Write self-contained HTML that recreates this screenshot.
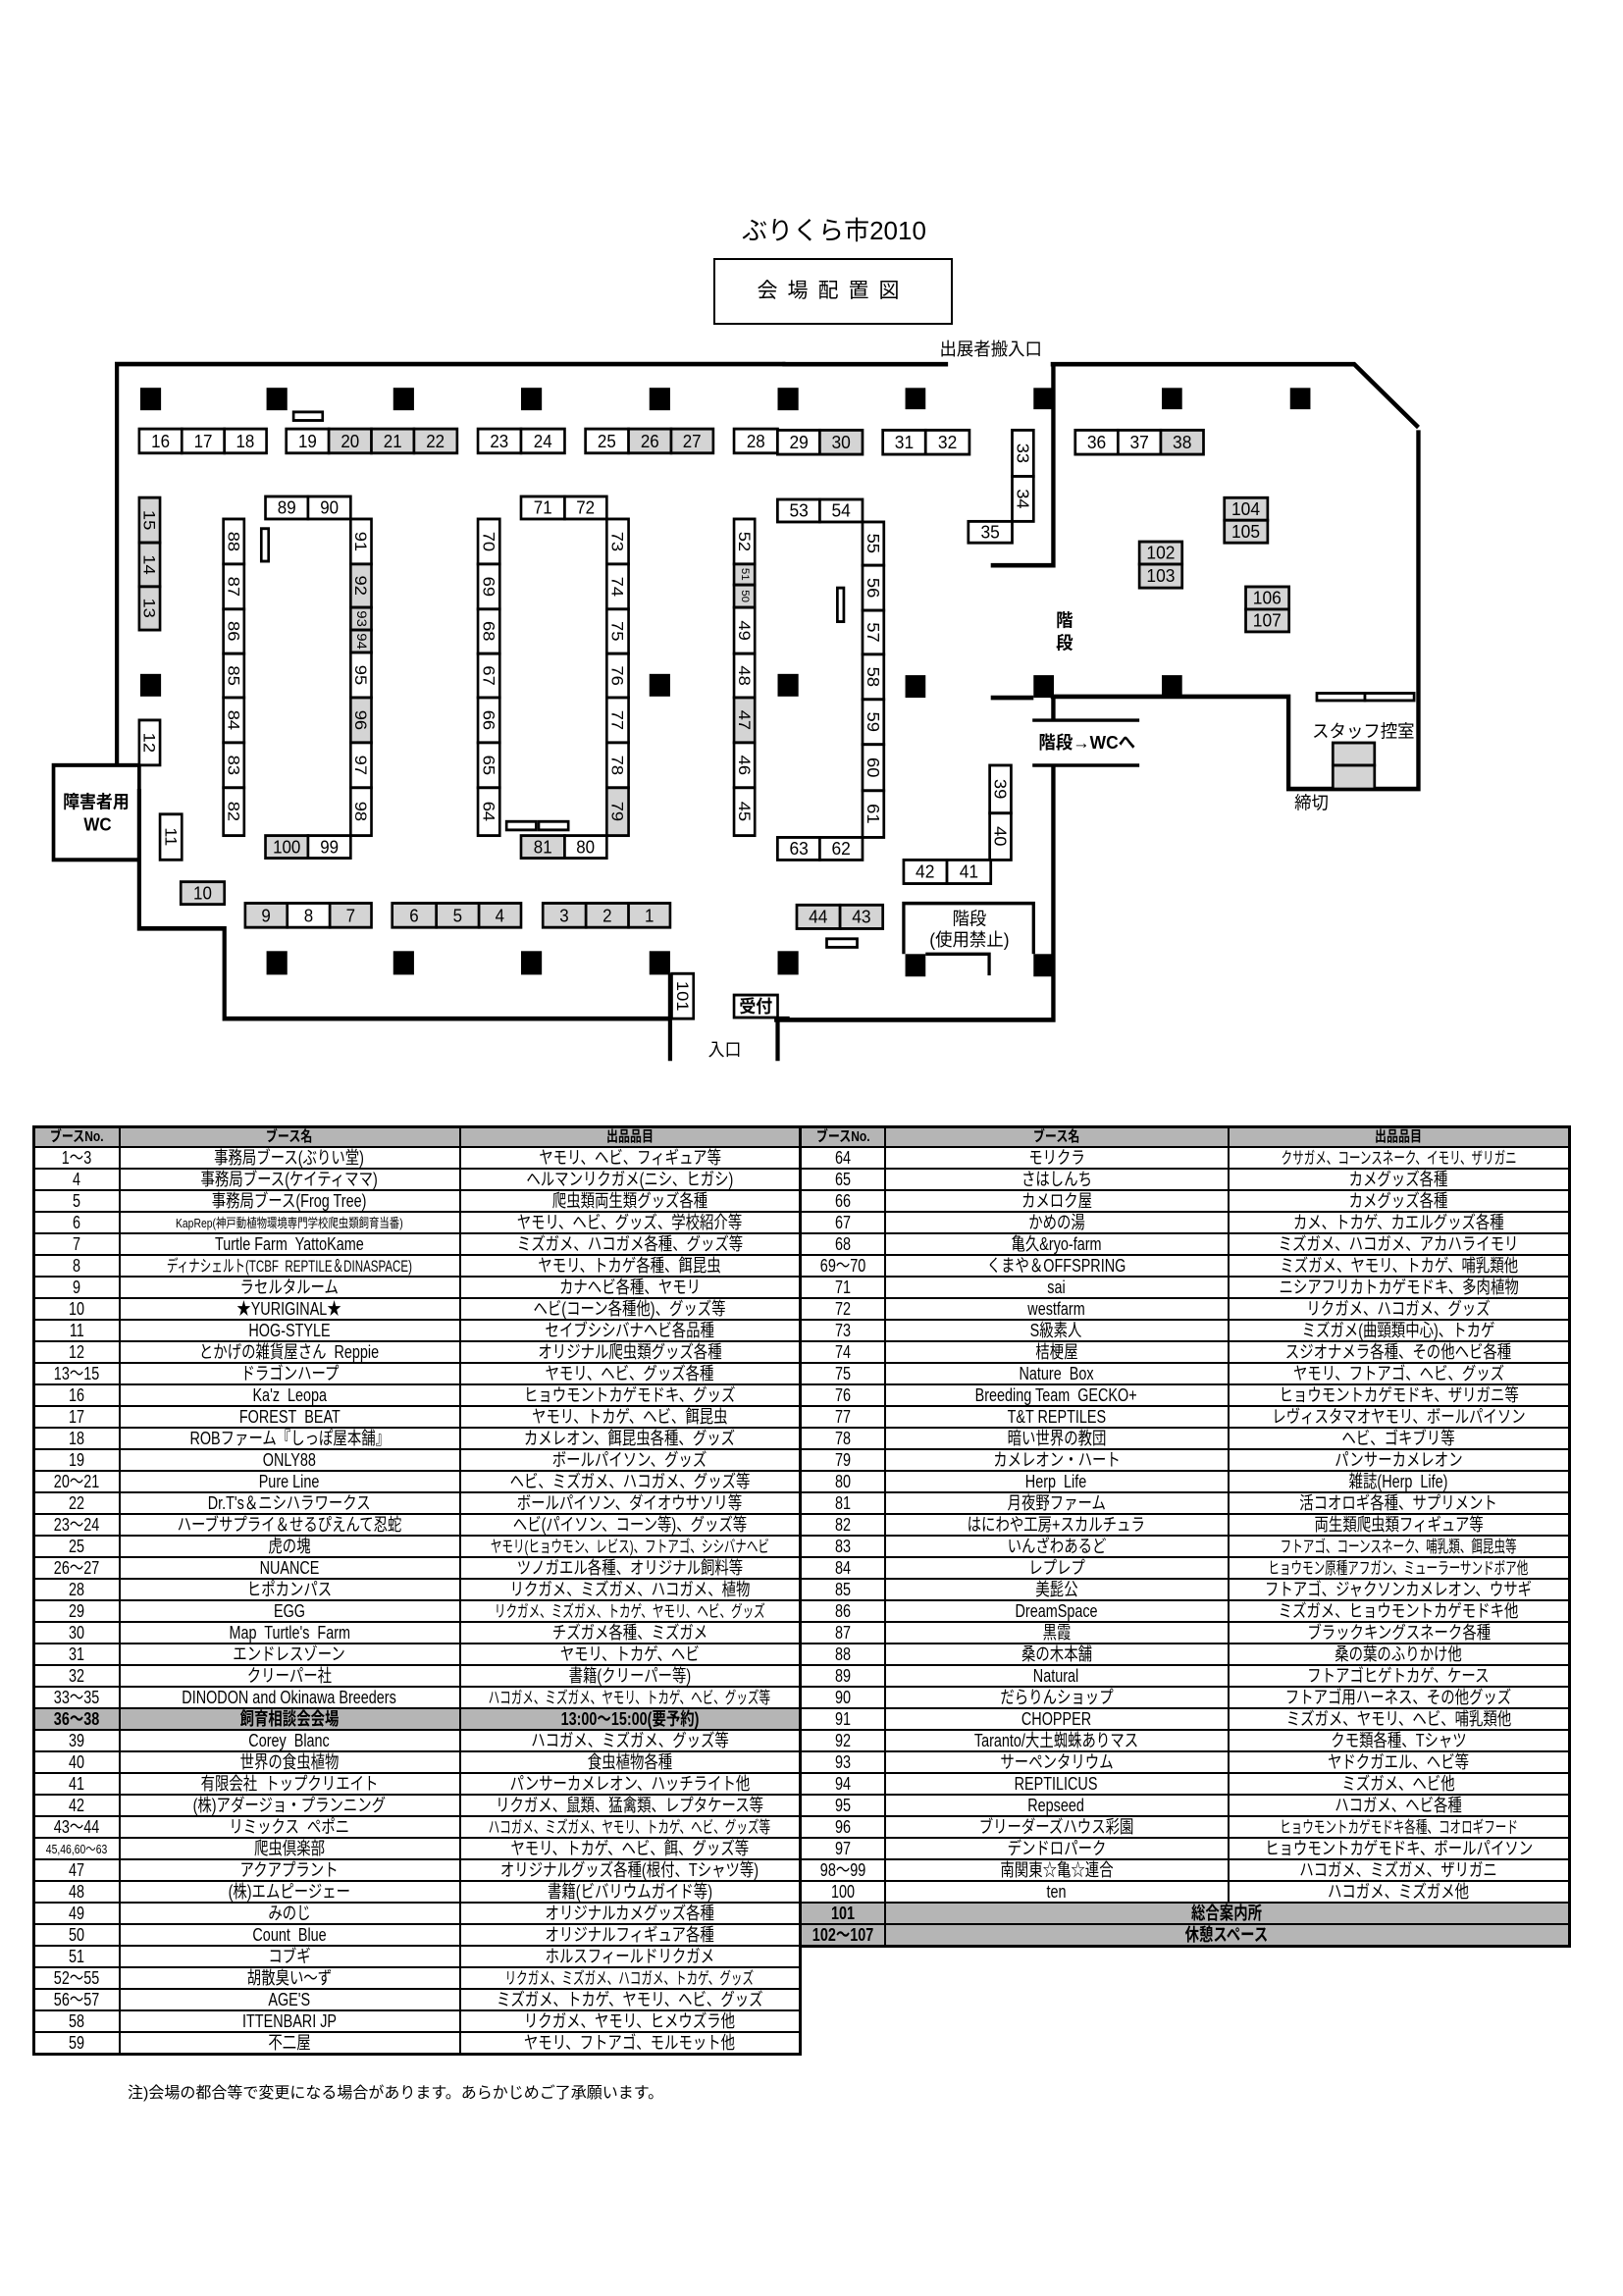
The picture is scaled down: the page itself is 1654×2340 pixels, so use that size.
<!DOCTYPE html>
<html><head><meta charset="utf-8">
<style>
html,body{margin:0;padding:0;background:#fff}
body{width:1654px;height:2340px;position:relative;overflow:hidden;font-family:"Liberation Sans","Noto Sans CJK JP",sans-serif}
svg{position:absolute;left:0;top:0}
.b{fill:#fff;stroke:#000;stroke-width:5}
.s{fill:#d4d4d4;stroke:#000;stroke-width:5}
.w{fill:none;stroke:#000;stroke-width:8}
.w6{fill:none;stroke:#000;stroke-width:6}
.c{fill:#000}
.t{font-family:"Liberation Sans","Noto Sans CJK JP",sans-serif;font-size:32px;text-anchor:middle;dominant-baseline:central}
.l{font-family:"Liberation Sans","Noto Sans CJK JP",sans-serif;font-size:32px;text-anchor:middle;dominant-baseline:central;font-weight:bold}
table{position:absolute;border-collapse:collapse;table-layout:fixed;border:3px solid #000}
td{border:2px solid #000;padding:0;text-align:center;white-space:nowrap;overflow:visible;font-size:18px;line-height:18px;height:20px}
td span{display:inline-block;transform:scaleX(.8);transform-origin:center;margin:0 -150px}
td.n span{font-size:17px;transform:scaleX(.68)}
td.x span{font-size:13px;transform:scaleX(.8)}
tr.h td{height:16px;background:#b5b5b5;font-weight:bold;font-size:15px}
tr.g td{background:#b5b5b5;font-weight:bold}
</style></head><body>

<div style="position:absolute;left:740px;top:220px;width:220px;text-align:center;font-size:26px;line-height:30px">ぶりくら市2010</div>
<div style="position:absolute;left:727px;top:263px;width:240px;height:64px;border:2px solid #000;text-align:center;font-size:21px;line-height:64px;letter-spacing:10px">会場配置図</div>

<svg width="1654" height="2340" viewBox="0 0 1654 2340">
<g transform="translate(0,200) scale(0.5294,0.5741)">
<path class="w" d="M225,1014 V298 H1512"/>
<rect x="103" y="1010" width="165" height="168" fill="#fff" stroke="#000" stroke-width="7"/>
<path class="w" d="M268,1052 V1300 H432 V1460 H1290 M1290,1380 V1535 M1497,1535 V1460 H1520"/>
<text class="l" x="185" y="1075">障害者用</text><text class="l" x="188" y="1115">WC</text>
<text class="t" x="1395" y="1515">入口</text>
<rect class="c" x="270" y="340" width="40" height="40"/><rect class="c" x="513" y="340" width="40" height="40"/><rect class="c" x="757" y="340" width="40" height="40"/><rect class="c" x="1003" y="340" width="40" height="40"/><rect class="c" x="1250" y="340" width="40" height="40"/><rect class="c" x="1497" y="340" width="40" height="40"/>
<rect class="c" x="270" y="848" width="40" height="40"/><rect class="c" x="1250" y="848" width="40" height="40"/><rect class="c" x="1497" y="848" width="40" height="40"/>
<rect class="c" x="513" y="1340" width="40" height="42"/><rect class="c" x="757" y="1340" width="40" height="42"/><rect class="c" x="1003" y="1340" width="40" height="42"/><rect class="c" x="1250" y="1340" width="40" height="42"/><rect class="c" x="1497" y="1340" width="40" height="42"/>
<rect class="b" x="565" y="383" width="56" height="15" stroke-width="3"/><rect class="b" x="503" y="590" width="14" height="58" stroke-width="3"/><rect class="b" x="975" y="1110" width="57" height="15" stroke-width="3"/><rect class="b" x="1037" y="1110" width="57" height="15" stroke-width="3"/>
<rect class="b" x="268" y="413" width="82" height="43"/><text class="t" x="309" y="435">16</text>
<rect class="b" x="350" y="413" width="82" height="43"/><text class="t" x="391" y="435">17</text>
<rect class="b" x="432" y="413" width="81" height="43"/><text class="t" x="472" y="435">18</text>
<rect class="b" x="551" y="413" width="82" height="43"/><text class="t" x="592" y="435">19</text>
<rect class="s" x="633" y="413" width="82" height="43"/><text class="t" x="674" y="435">20</text>
<rect class="s" x="715" y="413" width="82" height="43"/><text class="t" x="756" y="435">21</text>
<rect class="s" x="797" y="413" width="83" height="43"/><text class="t" x="838" y="435">22</text>
<rect class="b" x="920" y="413" width="83" height="43"/><text class="t" x="961" y="435">23</text>
<rect class="b" x="1003" y="413" width="84" height="43"/><text class="t" x="1045" y="435">24</text>
<rect class="b" x="1127" y="413" width="83" height="43"/><text class="t" x="1168" y="435">25</text>
<rect class="s" x="1210" y="413" width="82" height="43"/><text class="t" x="1251" y="435">26</text>
<rect class="s" x="1292" y="413" width="81" height="43"/><text class="t" x="1332" y="435">27</text>
<rect class="b" x="1413" y="413" width="84" height="43"/><text class="t" x="1455" y="435">28</text>
<rect class="s" x="268" y="535" width="40" height="80"/><text class="t" transform="translate(288,575) rotate(90)">15</text>
<rect class="s" x="268" y="615" width="40" height="78"/><text class="t" transform="translate(288,654) rotate(90)">14</text>
<rect class="s" x="268" y="693" width="40" height="77"/><text class="t" transform="translate(288,731) rotate(90)">13</text>
<rect class="b" x="268" y="930" width="40" height="80"/><text class="t" transform="translate(288,970) rotate(90)">12</text>
<rect class="b" x="308" y="1097" width="42" height="81"/><text class="t" transform="translate(329,1137) rotate(90)">11</text>
<rect class="s" x="348" y="1217" width="84" height="40"/><text class="t" x="390" y="1237">10</text>
<rect class="b" x="511" y="533" width="82" height="40"/><text class="t" x="552" y="553">89</text>
<rect class="b" x="593" y="533" width="82" height="40"/><text class="t" x="634" y="553">90</text>
<rect class="b" x="430" y="573" width="40" height="80"/><text class="t" transform="translate(450,613) rotate(90)">88</text>
<rect class="b" x="430" y="653" width="40" height="80"/><text class="t" transform="translate(450,693) rotate(90)">87</text>
<rect class="b" x="430" y="733" width="40" height="79"/><text class="t" transform="translate(450,772) rotate(90)">86</text>
<rect class="b" x="430" y="812" width="40" height="78"/><text class="t" transform="translate(450,851) rotate(90)">85</text>
<rect class="b" x="430" y="890" width="40" height="80"/><text class="t" transform="translate(450,930) rotate(90)">84</text>
<rect class="b" x="430" y="970" width="40" height="80"/><text class="t" transform="translate(450,1010) rotate(90)">83</text>
<rect class="b" x="430" y="1050" width="40" height="85"/><text class="t" transform="translate(450,1092) rotate(90)">82</text>
<rect class="b" x="675" y="573" width="40" height="80"/><text class="t" transform="translate(695,613) rotate(90)">91</text>
<rect class="s" x="675" y="653" width="40" height="77"/><text class="t" transform="translate(695,691) rotate(90)">92</text>
<rect class="s" x="675" y="730" width="40" height="40"/><text class="t" style="font-size:26px" transform="translate(695,750) rotate(90)">93</text>
<rect class="s" x="675" y="770" width="40" height="40"/><text class="t" style="font-size:26px" transform="translate(695,790) rotate(90)">94</text>
<rect class="b" x="675" y="810" width="40" height="80"/><text class="t" transform="translate(695,850) rotate(90)">95</text>
<rect class="s" x="675" y="890" width="40" height="80"/><text class="t" transform="translate(695,930) rotate(90)">96</text>
<rect class="b" x="675" y="970" width="40" height="80"/><text class="t" transform="translate(695,1010) rotate(90)">97</text>
<rect class="b" x="675" y="1050" width="40" height="85"/><text class="t" transform="translate(695,1092) rotate(90)">98</text>
<rect class="s" x="511" y="1135" width="82" height="40"/><text class="t" x="552" y="1155">100</text>
<rect class="b" x="593" y="1135" width="82" height="40"/><text class="t" x="634" y="1155">99</text>
<rect class="b" x="1003" y="533" width="84" height="40"/><text class="t" x="1045" y="553">71</text>
<rect class="b" x="1087" y="533" width="81" height="40"/><text class="t" x="1127" y="553">72</text>
<rect class="b" x="920" y="573" width="42" height="80"/><text class="t" transform="translate(941,613) rotate(90)">70</text>
<rect class="b" x="920" y="653" width="42" height="80"/><text class="t" transform="translate(941,693) rotate(90)">69</text>
<rect class="b" x="920" y="733" width="42" height="79"/><text class="t" transform="translate(941,772) rotate(90)">68</text>
<rect class="b" x="920" y="812" width="42" height="78"/><text class="t" transform="translate(941,851) rotate(90)">67</text>
<rect class="b" x="920" y="890" width="42" height="80"/><text class="t" transform="translate(941,930) rotate(90)">66</text>
<rect class="b" x="920" y="970" width="42" height="80"/><text class="t" transform="translate(941,1010) rotate(90)">65</text>
<rect class="b" x="920" y="1050" width="42" height="85"/><text class="t" transform="translate(941,1092) rotate(90)">64</text>
<rect class="b" x="1168" y="573" width="42" height="80"/><text class="t" transform="translate(1189,613) rotate(90)">73</text>
<rect class="b" x="1168" y="653" width="42" height="80"/><text class="t" transform="translate(1189,693) rotate(90)">74</text>
<rect class="b" x="1168" y="733" width="42" height="79"/><text class="t" transform="translate(1189,772) rotate(90)">75</text>
<rect class="b" x="1168" y="812" width="42" height="78"/><text class="t" transform="translate(1189,851) rotate(90)">76</text>
<rect class="b" x="1168" y="890" width="42" height="80"/><text class="t" transform="translate(1189,930) rotate(90)">77</text>
<rect class="b" x="1168" y="970" width="42" height="80"/><text class="t" transform="translate(1189,1010) rotate(90)">78</text>
<rect class="s" x="1168" y="1050" width="42" height="85"/><text class="t" transform="translate(1189,1092) rotate(90)">79</text>
<rect class="s" x="1003" y="1135" width="84" height="40"/><text class="t" x="1045" y="1155">81</text>
<rect class="b" x="1087" y="1135" width="81" height="40"/><text class="t" x="1127" y="1155">80</text>
<rect class="b" x="1413" y="573" width="40" height="80"/><text class="t" transform="translate(1433,613) rotate(90)">52</text>
<rect class="s" x="1413" y="653" width="40" height="37"/><text class="t" style="font-size:20px" transform="translate(1433,671) rotate(90)">51</text>
<rect class="s" x="1413" y="690" width="40" height="40"/><text class="t" style="font-size:20px" transform="translate(1433,710) rotate(90)">50</text>
<rect class="b" x="1413" y="730" width="40" height="82"/><text class="t" transform="translate(1433,771) rotate(90)">49</text>
<rect class="b" x="1413" y="812" width="40" height="78"/><text class="t" transform="translate(1433,851) rotate(90)">48</text>
<rect class="s" x="1413" y="890" width="40" height="80"/><text class="t" transform="translate(1433,930) rotate(90)">47</text>
<rect class="b" x="1413" y="970" width="40" height="80"/><text class="t" transform="translate(1433,1010) rotate(90)">46</text>
<rect class="b" x="1413" y="1050" width="40" height="85"/><text class="t" transform="translate(1433,1092) rotate(90)">45</text>
<rect class="s" x="472" y="1255" width="81" height="43"/><text class="t" x="512" y="1277">9</text>
<rect class="b" x="553" y="1255" width="82" height="43"/><text class="t" x="594" y="1277">8</text>
<rect class="s" x="635" y="1255" width="80" height="43"/><text class="t" x="675" y="1277">7</text>
<rect class="s" x="755" y="1255" width="85" height="43"/><text class="t" x="797" y="1277">6</text>
<rect class="s" x="840" y="1255" width="82" height="43"/><text class="t" x="881" y="1277">5</text>
<rect class="s" x="922" y="1255" width="81" height="43"/><text class="t" x="962" y="1277">4</text>
<rect class="s" x="1045" y="1255" width="83" height="43"/><text class="t" x="1086" y="1277">3</text>
<rect class="s" x="1128" y="1255" width="82" height="43"/><text class="t" x="1169" y="1277">2</text>
<rect class="s" x="1210" y="1255" width="80" height="43"/><text class="t" x="1250" y="1277">1</text>
<rect class="b" x="1293" y="1380" width="42" height="80"/><text class="t" transform="translate(1314,1420) rotate(90)">101</text>
<rect class="b" x="1413" y="1418" width="84" height="40"/><text class="l" x="1455" y="1438">受付</text>
</g>

<g transform="translate(800,203) scale(0.5447,0.5741)">
<path class="w" d="M-5,293 H305 M497,293 H1065 L1185,405 M1185,410 V1047 H942 V883 H497 M502,293 V650 H385 M385,885 H465 M502,883 V925 M502,1005 V1457 H-20"/>
<path class="w6" d="M463,925 H663 M463,1005 H663"/>
<path class="w6" d="M222,1340 V1250 H465 V1340 M263,1340 H385 M382,1340 V1378"/>
<text class="t" x="385" y="266">出展者搬入口</text>
<text class="l" x="523" y="748">階</text><text class="l" x="523" y="788">段</text>
<text class="l" x="565" y="965">階段→WCへ</text>
<text class="t" x="1082" y="945">スタッフ控室</text>
<text class="t" x="985" y="1072">締切</text>
<text class="t" x="345" y="1277">階段</text><text class="t" x="345" y="1315">(使用禁止)</text>
<rect class="c" x="225" y="335" width="38" height="38"/><rect class="c" x="465" y="335" width="38" height="38"/><rect class="c" x="705" y="335" width="38" height="38"/><rect class="c" x="945" y="335" width="38" height="38"/>
<rect class="c" x="225" y="845" width="38" height="40"/><rect class="c" x="465" y="845" width="38" height="40"/><rect class="c" x="705" y="845" width="38" height="40"/>
<rect class="c" x="225" y="1340" width="38" height="40"/><rect class="c" x="465" y="1340" width="38" height="40"/>
<rect class="b" x="98" y="690" width="12" height="60" stroke-width="3"/><rect class="b" x="78" y="1313" width="57" height="15" stroke-width="3"/>
<rect class="b" x="995" y="877" width="90" height="13" stroke-width="3"/><rect class="b" x="1085" y="877" width="92" height="13" stroke-width="3"/>
<rect class="s" x="1025" y="965" width="78" height="40"/><rect class="s" x="1025" y="1005" width="78" height="42"/>
<rect class="b" x="-14" y="410" width="79" height="43"/><text class="t" x="26" y="432">29</text>
<rect class="s" x="65" y="410" width="80" height="43"/><text class="t" x="105" y="432">30</text>
<rect class="b" x="183" y="410" width="80" height="43"/><text class="t" x="223" y="432">31</text>
<rect class="b" x="263" y="410" width="82" height="43"/><text class="t" x="304" y="432">32</text>
<rect class="b" x="425" y="410" width="40" height="82"/><text class="t" transform="translate(445,451) rotate(90)">33</text>
<rect class="b" x="425" y="492" width="40" height="80"/><text class="t" transform="translate(445,532) rotate(90)">34</text>
<rect class="b" x="343" y="572" width="82" height="38"/><text class="t" x="384" y="591">35</text>
<rect class="b" x="543" y="410" width="80" height="43"/><text class="t" x="583" y="432">36</text>
<rect class="b" x="623" y="410" width="80" height="43"/><text class="t" x="663" y="432">37</text>
<rect class="s" x="703" y="410" width="80" height="43"/><text class="t" x="743" y="432">38</text>
<rect class="b" x="-14" y="533" width="79" height="40"/><text class="t" x="26" y="553">53</text>
<rect class="b" x="65" y="533" width="80" height="40"/><text class="t" x="105" y="553">54</text>
<rect class="b" x="145" y="573" width="40" height="77"/><text class="t" transform="translate(165,611) rotate(90)">55</text>
<rect class="b" x="145" y="650" width="40" height="80"/><text class="t" transform="translate(165,690) rotate(90)">56</text>
<rect class="b" x="145" y="730" width="40" height="78"/><text class="t" transform="translate(165,769) rotate(90)">57</text>
<rect class="b" x="145" y="808" width="40" height="80"/><text class="t" transform="translate(165,848) rotate(90)">58</text>
<rect class="b" x="145" y="888" width="40" height="80"/><text class="t" transform="translate(165,928) rotate(90)">59</text>
<rect class="b" x="145" y="968" width="40" height="82"/><text class="t" transform="translate(165,1009) rotate(90)">60</text>
<rect class="b" x="145" y="1050" width="40" height="83"/><text class="t" transform="translate(165,1091) rotate(90)">61</text>
<rect class="b" x="-14" y="1133" width="79" height="40"/><text class="t" x="26" y="1153">63</text>
<rect class="b" x="65" y="1133" width="80" height="40"/><text class="t" x="105" y="1153">62</text>
<rect class="b" x="383" y="1005" width="40" height="85"/><text class="t" transform="translate(403,1047) rotate(90)">39</text>
<rect class="b" x="383" y="1090" width="40" height="83"/><text class="t" transform="translate(403,1131) rotate(90)">40</text>
<rect class="b" x="222" y="1173" width="81" height="42"/><text class="t" x="262" y="1194">42</text>
<rect class="b" x="303" y="1173" width="82" height="42"/><text class="t" x="344" y="1194">41</text>
<rect class="s" x="22" y="1253" width="81" height="42"/><text class="t" x="62" y="1274">44</text>
<rect class="s" x="103" y="1253" width="80" height="42"/><text class="t" x="143" y="1274">43</text>
<rect class="s" x="663" y="608" width="80" height="40"/><text class="t" x="703" y="628">102</text>
<rect class="s" x="663" y="648" width="80" height="42"/><text class="t" x="703" y="669">103</text>
<rect class="s" x="822" y="530" width="81" height="40"/><text class="t" x="862" y="550">104</text>
<rect class="s" x="822" y="570" width="81" height="40"/><text class="t" x="862" y="590">105</text>
<rect class="s" x="862" y="688" width="81" height="40"/><text class="t" x="902" y="708">106</text>
<rect class="s" x="862" y="728" width="81" height="40"/><text class="t" x="902" y="748">107</text>
</g>
</svg>

<table style="left:33px;top:1147px;width:783px">
<colgroup><col style="width:87px"><col style="width:347px"><col style="width:347px"></colgroup>
<tr class="h"><td><span>ブースNo.</span></td><td><span>ブース名</span></td><td><span>出品品目</span></td></tr>
<tr><td><span>1～3</span></td><td><span>事務局ブース(ぶりい堂)</span></td><td><span>ヤモリ、ヘビ、フィギュア等</span></td></tr>
<tr><td><span>4</span></td><td><span>事務局ブース(ケイティママ)</span></td><td><span>ヘルマンリクガメ(ニシ、ヒガシ)</span></td></tr>
<tr><td><span>5</span></td><td><span>事務局ブース(Frog Tree)</span></td><td><span>爬虫類両生類グッズ各種</span></td></tr>
<tr><td><span>6</span></td><td class="x"><span>KapRep(神戸動植物環境専門学校爬虫類飼育当番)</span></td><td><span>ヤモリ、ヘビ、グッズ、学校紹介等</span></td></tr>
<tr><td><span>7</span></td><td><span>Turtle Farm&nbsp; YattoKame</span></td><td><span>ミズガメ、ハコガメ各種、グッズ等</span></td></tr>
<tr><td><span>8</span></td><td class="n"><span>ディナシェルト(TCBF&nbsp; REPTILE＆DINASPACE)</span></td><td><span>ヤモリ、トカゲ各種、餌昆虫</span></td></tr>
<tr><td><span>9</span></td><td><span>ラセルタルーム</span></td><td><span>カナヘビ各種、ヤモリ</span></td></tr>
<tr><td><span>10</span></td><td><span>★YURIGINAL★</span></td><td><span>ヘビ(コーン各種他)、グッズ等</span></td></tr>
<tr><td><span>11</span></td><td><span>HOG-STYLE</span></td><td><span>セイブシシバナヘビ各品種</span></td></tr>
<tr><td><span>12</span></td><td><span>とかげの雑貨屋さん&nbsp; Reppie</span></td><td><span>オリジナル爬虫類グッズ各種</span></td></tr>
<tr><td><span>13～15</span></td><td><span>ドラゴンハープ</span></td><td><span>ヤモリ、ヘビ、グッズ各種</span></td></tr>
<tr><td><span>16</span></td><td><span>Ka'z&nbsp; Leopa</span></td><td><span>ヒョウモントカゲモドキ、グッズ</span></td></tr>
<tr><td><span>17</span></td><td><span>FOREST&nbsp; BEAT</span></td><td><span>ヤモリ、トカゲ、ヘビ、餌昆虫</span></td></tr>
<tr><td><span>18</span></td><td><span>ROBファーム『しっぽ屋本舗』</span></td><td><span>カメレオン、餌昆虫各種、グッズ</span></td></tr>
<tr><td><span>19</span></td><td><span>ONLY88</span></td><td><span>ボールパイソン、グッズ</span></td></tr>
<tr><td><span>20～21</span></td><td><span>Pure Line</span></td><td><span>ヘビ、ミズガメ、ハコガメ、グッズ等</span></td></tr>
<tr><td><span>22</span></td><td><span>Dr.T's＆ニシハラワークス</span></td><td><span>ボールパイソン、ダイオウサソリ等</span></td></tr>
<tr><td><span>23～24</span></td><td><span>ハーブサプライ＆せるぴえんて忍蛇</span></td><td><span>ヘビ(パイソン、コーン等)、グッズ等</span></td></tr>
<tr><td><span>25</span></td><td><span>虎の塊</span></td><td class="n"><span>ヤモリ(ヒョウモン、レビス)、フトアゴ、シシバナヘビ</span></td></tr>
<tr><td><span>26～27</span></td><td><span>NUANCE</span></td><td><span>ツノガエル各種、オリジナル飼料等</span></td></tr>
<tr><td><span>28</span></td><td><span>ヒポカンパス</span></td><td><span>リクガメ、ミズガメ、ハコガメ、植物</span></td></tr>
<tr><td><span>29</span></td><td><span>EGG</span></td><td class="n"><span>リクガメ、ミズガメ、トカゲ、ヤモリ、ヘビ、グッズ</span></td></tr>
<tr><td><span>30</span></td><td><span>Map&nbsp; Turtle's&nbsp; Farm</span></td><td><span>チズガメ各種、ミズガメ</span></td></tr>
<tr><td><span>31</span></td><td><span>エンドレスゾーン</span></td><td><span>ヤモリ、トカゲ、ヘビ</span></td></tr>
<tr><td><span>32</span></td><td><span>クリーパー社</span></td><td><span>書籍(クリーパー等)</span></td></tr>
<tr><td><span>33～35</span></td><td><span>DINODON and Okinawa Breeders</span></td><td class="n"><span>ハコガメ、ミズガメ、ヤモリ、トカゲ、ヘビ、グッズ等</span></td></tr>
<tr class="g"><td><span>36～38</span></td><td><span>飼育相談会会場</span></td><td><span>13:00～15:00(要予約)</span></td></tr>
<tr><td><span>39</span></td><td><span>Corey&nbsp; Blanc</span></td><td><span>ハコガメ、ミズガメ、グッズ等</span></td></tr>
<tr><td><span>40</span></td><td><span>世界の食虫植物</span></td><td><span>食虫植物各種</span></td></tr>
<tr><td><span>41</span></td><td><span>有限会社&nbsp; トップクリエイト</span></td><td><span>パンサーカメレオン、ハッチライト他</span></td></tr>
<tr><td><span>42</span></td><td><span>(株)アダージョ・プランニング</span></td><td><span>リクガメ、鼠類、猛禽類、レプタケース等</span></td></tr>
<tr><td><span>43～44</span></td><td><span>リミックス&nbsp; ペポニ</span></td><td class="n"><span>ハコガメ、ミズガメ、ヤモリ、トカゲ、ヘビ、グッズ等</span></td></tr>
<tr><td class="x"><span>45,46,60～63</span></td><td><span>爬虫倶楽部</span></td><td><span>ヤモリ、トカゲ、ヘビ、餌、グッズ等</span></td></tr>
<tr><td><span>47</span></td><td><span>アクアプラント</span></td><td><span>オリジナルグッズ各種(根付、Tシャツ等)</span></td></tr>
<tr><td><span>48</span></td><td><span>(株)エムピージェー</span></td><td><span>書籍(ビバリウムガイド等)</span></td></tr>
<tr><td><span>49</span></td><td><span>みのじ</span></td><td><span>オリジナルカメグッズ各種</span></td></tr>
<tr><td><span>50</span></td><td><span>Count&nbsp; Blue</span></td><td><span>オリジナルフィギュア各種</span></td></tr>
<tr><td><span>51</span></td><td><span>コブギ</span></td><td><span>ホルスフィールドリクガメ</span></td></tr>
<tr><td><span>52～55</span></td><td><span>胡散臭い～ず</span></td><td class="n"><span>リクガメ、ミズガメ、ハコガメ、トカゲ、グッズ</span></td></tr>
<tr><td><span>56～57</span></td><td><span>AGE'S</span></td><td><span>ミズガメ、トカゲ、ヤモリ、ヘビ、グッズ</span></td></tr>
<tr><td><span>58</span></td><td><span>ITTENBARI JP</span></td><td><span>リクガメ、ヤモリ、ヒメウズラ他</span></td></tr>
<tr><td><span>59</span></td><td><span>不二屋</span></td><td><span>ヤモリ、フトアゴ、モルモット他</span></td></tr>
</table>

<table style="left:814px;top:1147px;width:784px">
<colgroup><col style="width:86px"><col style="width:350px"><col style="width:348px"></colgroup>
<tr class="h"><td><span>ブースNo.</span></td><td><span>ブース名</span></td><td><span>出品品目</span></td></tr>
<tr><td><span>64</span></td><td><span>モリクラ</span></td><td class="n"><span>クサガメ、コーンスネーク、イモリ、ザリガニ</span></td></tr>
<tr><td><span>65</span></td><td><span>さはしんち</span></td><td><span>カメグッズ各種</span></td></tr>
<tr><td><span>66</span></td><td><span>カメロク屋</span></td><td><span>カメグッズ各種</span></td></tr>
<tr><td><span>67</span></td><td><span>かめの湯</span></td><td><span>カメ、トカゲ、カエルグッズ各種</span></td></tr>
<tr><td><span>68</span></td><td><span>亀久&amp;ryo-farm</span></td><td><span>ミズガメ、ハコガメ、アカハライモリ</span></td></tr>
<tr><td><span>69～70</span></td><td><span>くまや＆OFFSPRING</span></td><td><span>ミズガメ、ヤモリ、トカゲ、哺乳類他</span></td></tr>
<tr><td><span>71</span></td><td><span>sai</span></td><td><span>ニシアフリカトカゲモドキ、多肉植物</span></td></tr>
<tr><td><span>72</span></td><td><span>westfarm</span></td><td><span>リクガメ、ハコガメ、グッズ</span></td></tr>
<tr><td><span>73</span></td><td><span>S級素人</span></td><td><span>ミズガメ(曲頸類中心)、トカゲ</span></td></tr>
<tr><td><span>74</span></td><td><span>桔梗屋</span></td><td><span>スジオナメラ各種、その他ヘビ各種</span></td></tr>
<tr><td><span>75</span></td><td><span>Nature&nbsp; Box</span></td><td><span>ヤモリ、フトアゴ、ヘビ、グッズ</span></td></tr>
<tr><td><span>76</span></td><td><span>Breeding Team&nbsp; GECKO+</span></td><td><span>ヒョウモントカゲモドキ、ザリガニ等</span></td></tr>
<tr><td><span>77</span></td><td><span>T&amp;T REPTILES</span></td><td><span>レヴィスタマオヤモリ、ボールパイソン</span></td></tr>
<tr><td><span>78</span></td><td><span>暗い世界の教団</span></td><td><span>ヘビ、ゴキブリ等</span></td></tr>
<tr><td><span>79</span></td><td><span>カメレオン・ハート</span></td><td><span>パンサーカメレオン</span></td></tr>
<tr><td><span>80</span></td><td><span>Herp&nbsp; Life</span></td><td><span>雑誌(Herp&nbsp; Life)</span></td></tr>
<tr><td><span>81</span></td><td><span>月夜野ファーム</span></td><td><span>活コオロギ各種、サプリメント</span></td></tr>
<tr><td><span>82</span></td><td><span>はにわや工房+スカルチュラ</span></td><td><span>両生類爬虫類フィギュア等</span></td></tr>
<tr><td><span>83</span></td><td><span>いんざわあるど</span></td><td class="n"><span>フトアゴ、コーンスネーク、哺乳類、餌昆虫等</span></td></tr>
<tr><td><span>84</span></td><td><span>レプレプ</span></td><td class="n"><span>ヒョウモン原種アフガン、ミューラーサンドボア他</span></td></tr>
<tr><td><span>85</span></td><td><span>美髭公</span></td><td><span>フトアゴ、ジャクソンカメレオン、ウサギ</span></td></tr>
<tr><td><span>86</span></td><td><span>DreamSpace</span></td><td><span>ミズガメ、ヒョウモントカゲモドキ他</span></td></tr>
<tr><td><span>87</span></td><td><span>黒霞</span></td><td><span>ブラックキングスネーク各種</span></td></tr>
<tr><td><span>88</span></td><td><span>桑の木本舗</span></td><td><span>桑の葉のふりかけ他</span></td></tr>
<tr><td><span>89</span></td><td><span>Natural</span></td><td><span>フトアゴヒゲトカゲ、ケース</span></td></tr>
<tr><td><span>90</span></td><td><span>だらりんショップ</span></td><td><span>フトアゴ用ハーネス、その他グッズ</span></td></tr>
<tr><td><span>91</span></td><td><span>CHOPPER</span></td><td><span>ミズガメ、ヤモリ、ヘビ、哺乳類他</span></td></tr>
<tr><td><span>92</span></td><td><span>Taranto/大土蜘蛛ありマス</span></td><td><span>クモ類各種、Tシャツ</span></td></tr>
<tr><td><span>93</span></td><td><span>サーペンタリウム</span></td><td><span>ヤドクガエル、ヘビ等</span></td></tr>
<tr><td><span>94</span></td><td><span>REPTILICUS</span></td><td><span>ミズガメ、ヘビ他</span></td></tr>
<tr><td><span>95</span></td><td><span>Repseed</span></td><td><span>ハコガメ、ヘビ各種</span></td></tr>
<tr><td><span>96</span></td><td><span>ブリーダーズハウス彩園</span></td><td class="n"><span>ヒョウモントカゲモドキ各種、コオロギフード</span></td></tr>
<tr><td><span>97</span></td><td><span>デンドロパーク</span></td><td><span>ヒョウモントカゲモドキ、ボールパイソン</span></td></tr>
<tr><td><span>98～99</span></td><td><span>南関東☆亀☆連合</span></td><td><span>ハコガメ、ミズガメ、ザリガニ</span></td></tr>
<tr><td><span>100</span></td><td><span>ten</span></td><td><span>ハコガメ、ミズガメ他</span></td></tr>
<tr class="g"><td><span>101</span></td><td colspan="2"><span>総合案内所</span></td></tr>
<tr class="g"><td><span>102～107</span></td><td colspan="2"><span>休憩スペース</span></td></tr>
</table>

<div style="position:absolute;left:130px;top:2124px;font-size:16px;line-height:20px;white-space:nowrap">注)会場の都合等で変更になる場合があります。あらかじめご了承願います。</div>
</body></html>
